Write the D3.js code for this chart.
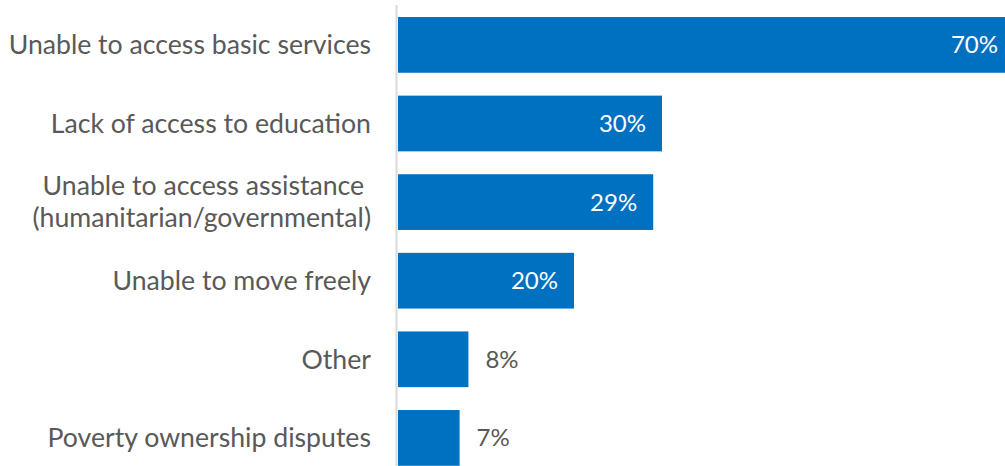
<!DOCTYPE html>
<html>
<head>
<meta charset="utf-8">
<script src="https://cdn.jsdelivr.net/npm/d3@7"></script>
<style>
  html, body { margin: 0; padding: 0; background: #fff; overflow: hidden; }
  svg { display: block; }
</style>
</head>
<body>
<script>
// Reasons reported, top to bottom
const categories = [
  ["Unable to access basic services"],
  ["Lack of access to education"],
  ["Unable to access assistance ", "(humanitarian/governmental)"],
  ["Unable to move freely"],
  ["Other"],
  ["Poverty ownership disputes"]
];
const values = [70, 30, 29, 20, 8, 7];

const W = 1005, H = 466;
const x0 = 398;
const barColor = "#0070C0";
const textColor = "#595959";
const font = "Lato, 'Open Sans', sans-serif";

const svg = d3.select("body").append("svg")
  .attr("width", W).attr("height", H);

const keys = categories.map((c, i) => i);

const x = d3.scaleLinear().domain([0, 70]).range([x0, x0 + 70 * 8.8]);
const y = d3.scaleBand().domain(keys).range([5.6, 477.2])
  .paddingInner(0.291).paddingOuter(0.1455);

// bars
svg.append("g").selectAll("rect")
  .data(values)
  .join("rect")
  .attr("x", x(0))
  .attr("y", (d, i) => y(i))
  .attr("width", d => x(d) - x(0))
  .attr("height", y.bandwidth())
  .attr("fill", barColor);

// category axis line
svg.append("line")
  .attr("x1", 396.5).attr("x2", 396.5)
  .attr("y1", 5).attr("y2", H)
  .attr("stroke", "#d9d9d9").attr("stroke-width", 2);

// category labels
const lineH = 32;
svg.append("g").selectAll("text")
  .data(categories)
  .join("text")
  .attr("text-anchor", "end")
  .attr("font-family", font)
  .attr("font-size", 26.67)
  .attr("fill", textColor)
  .each(function (lines, i) {
    const cy = y(i) + y.bandwidth() / 2;
    const startY = cy - (lines.length - 1) * lineH / 2;
    d3.select(this).selectAll("tspan")
      .data(lines)
      .join("tspan")
      .attr("x", 371)
      .attr("y", (l, j) => startY + j * lineH)
      .attr("dy", "0.35em")
      .text(l => l);
  });

// value labels: inside the bar end when wide enough, otherwise just past it
svg.append("g").selectAll("text")
  .data(values)
  .join("text")
  .attr("font-family", font)
  .attr("font-size", 24)
  .attr("dy", "0.35em")
  .attr("y", (d, i) => y(i) + y.bandwidth() / 2)
  .each(function (d) {
    const inside = d >= 15;
    d3.select(this)
      .attr("x", inside ? Math.min(x(d), W + 10) - 16 : x(d) + 17)
      .attr("text-anchor", inside ? "end" : "start")
      .attr("fill", inside ? "#ffffff" : textColor)
      .text(d + "%");
  });
</script>
</body>
</html>
